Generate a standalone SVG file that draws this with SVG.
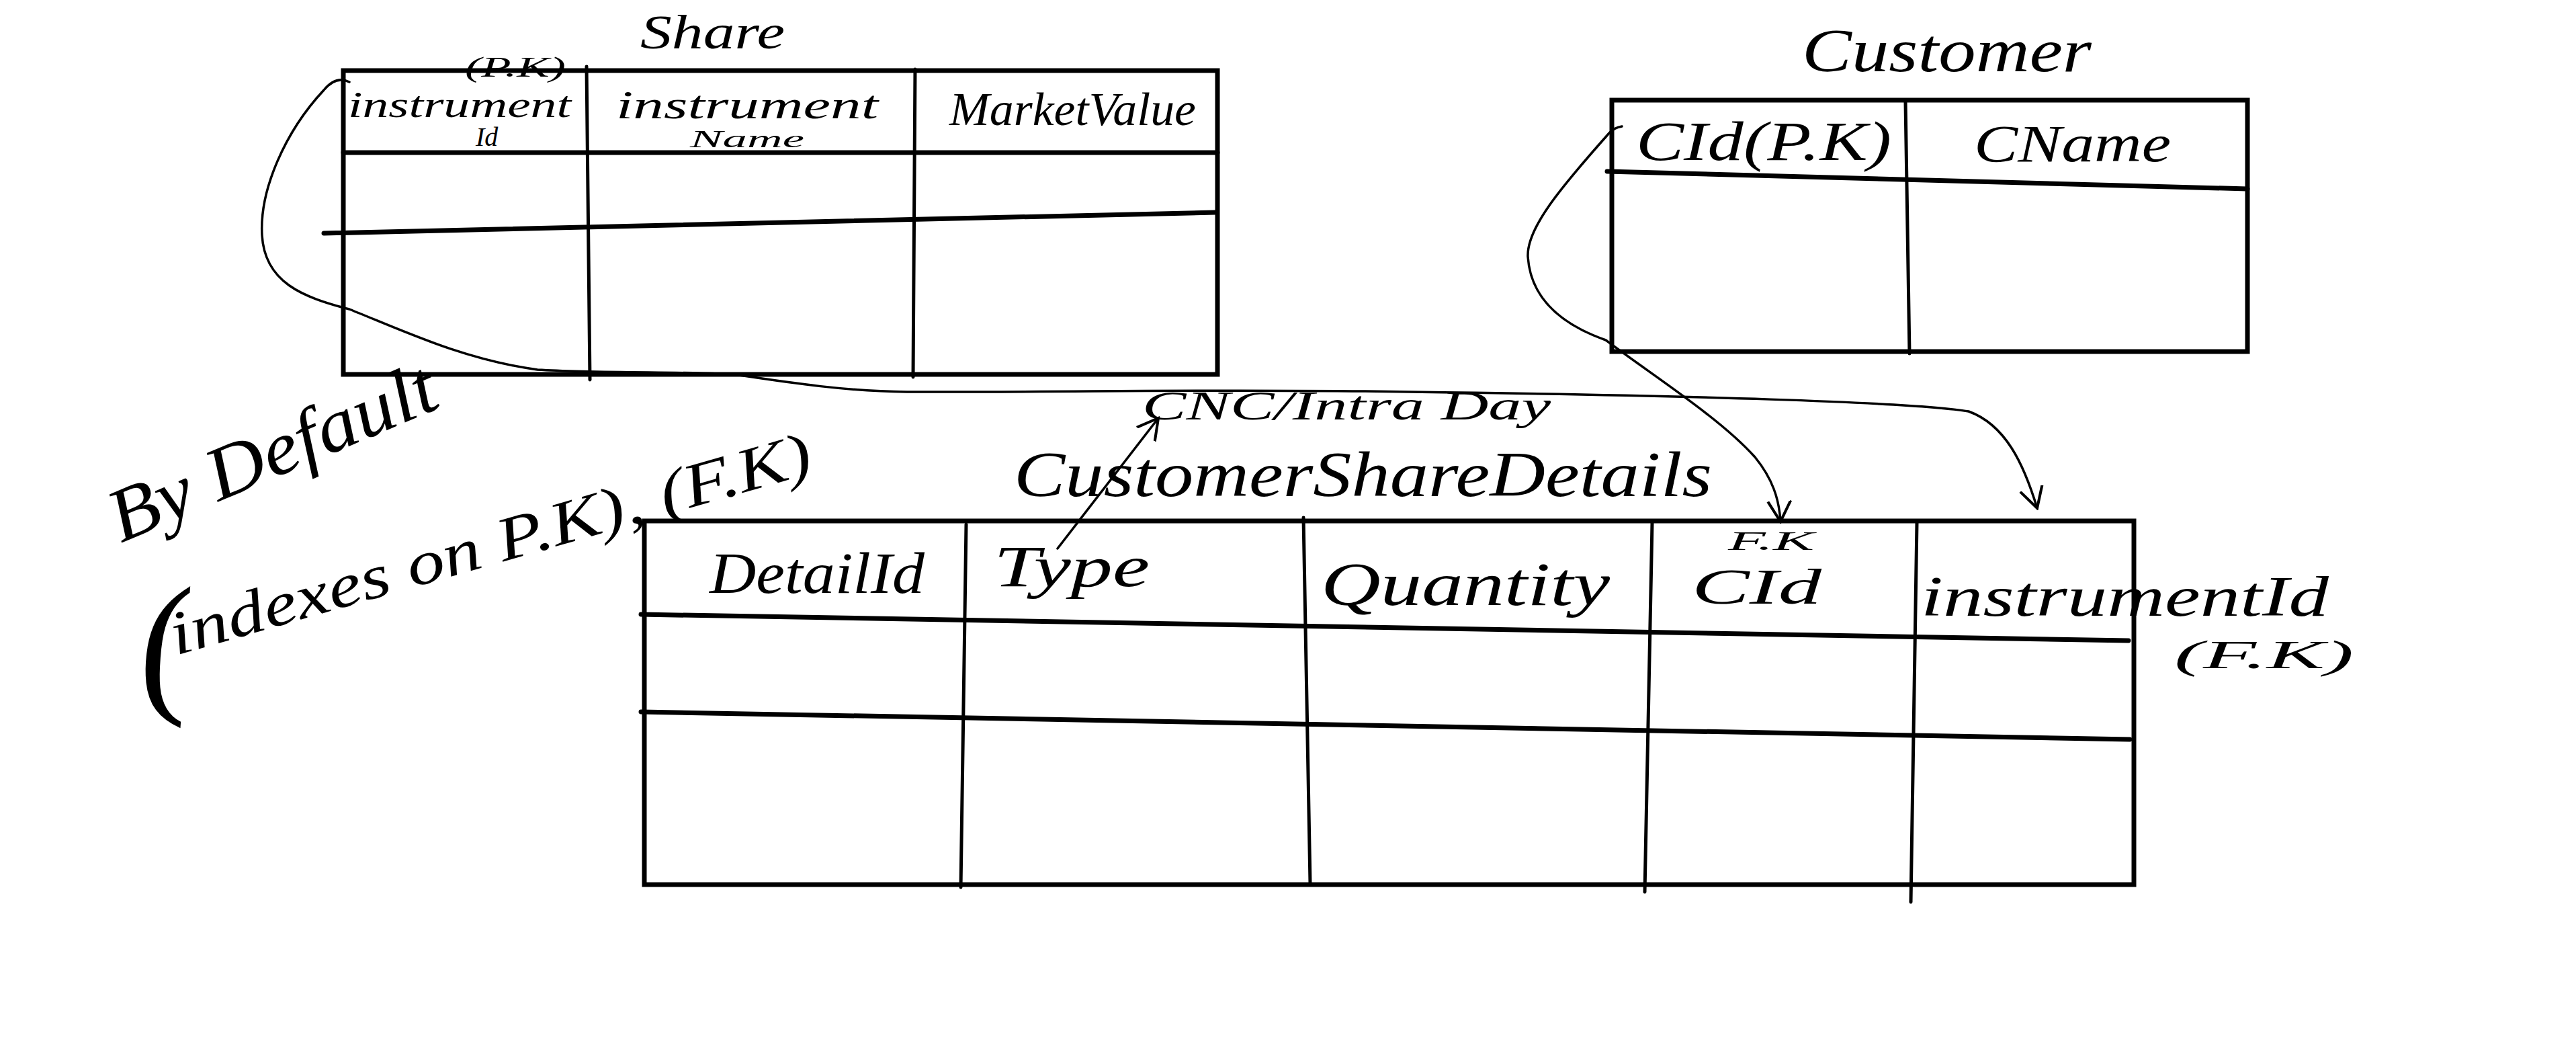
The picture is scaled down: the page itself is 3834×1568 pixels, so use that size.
<svg xmlns="http://www.w3.org/2000/svg" width="3834" height="1568" viewBox="0 0 3834 1568">
<style>
.bg{fill:#ffffff}
.frame{fill:none;stroke:#000;stroke-width:7;stroke-linejoin:miter}
.rule{fill:none;stroke:#000;stroke-width:7;stroke-linecap:round}
.div{fill:none;stroke:#000;stroke-width:5;stroke-linecap:round}
.conn{fill:none;stroke:#000;stroke-width:3.5;stroke-linecap:round;stroke-linejoin:round}
.hw{font-family:"Liberation Serif","DejaVu Serif",serif;font-style:italic;fill:#000}
</style>
<defs>
<marker id="head" viewBox="0 0 10 10" refX="9" refY="5" markerUnits="userSpaceOnUse" markerWidth="34" markerHeight="50" orient="auto">
<path d="M0,0 L9,5 L0,10" fill="none" stroke="#000" stroke-width="1.2"/>
</marker>
</defs>
<rect class="bg" x="0" y="0" width="3834" height="1568"/>

<g id="share">
<text class="hw" x="953" y="72" font-size="72" textLength="215" lengthAdjust="spacingAndGlyphs">Share</text>
<rect class="frame" x="511" y="105" width="1301" height="452"/>
<line class="rule" x1="511" y1="227" x2="1812" y2="227"/>
<line class="rule" x1="482" y1="347" x2="1809" y2="316"/>
<line class="div" x1="873" y1="99" x2="878" y2="565"/>
<line class="div" x1="1362" y1="103" x2="1359" y2="561"/>
<text class="hw" x="692" y="114" font-size="42" textLength="150" lengthAdjust="spacingAndGlyphs">(P.K)</text>
<text class="hw" x="518" y="174" font-size="54" textLength="332" lengthAdjust="spacingAndGlyphs">instrument</text>
<text class="hw" x="708" y="217" font-size="40">Id</text>
<text class="hw" x="917" y="176" font-size="60" textLength="390" lengthAdjust="spacingAndGlyphs">instrument</text>
<text class="hw" x="1027" y="219" font-size="36" textLength="170" lengthAdjust="spacingAndGlyphs">Name</text>
<text class="hw" x="1413" y="186" font-size="70" textLength="367" lengthAdjust="spacingAndGlyphs">MarketValue</text>
</g>

<g id="customer">
<text class="hw" x="2682" y="106" font-size="92" textLength="431" lengthAdjust="spacingAndGlyphs">Customer</text>
<rect class="frame" x="2399" y="149" width="946" height="374"/>
<line class="rule" x1="2392" y1="255" x2="3345" y2="281"/>
<line class="div" x1="2836" y1="151" x2="2842" y2="526"/>
<text class="hw" x="2435" y="238" font-size="82" textLength="380" lengthAdjust="spacingAndGlyphs">CId(P.K)</text>
<text class="hw" x="2938" y="240" font-size="78" textLength="293" lengthAdjust="spacingAndGlyphs">CName</text>
</g>

<g id="customer-share-details">
<text class="hw" x="1509" y="738" font-size="96" textLength="1039" lengthAdjust="spacingAndGlyphs">CustomerShareDetails</text>
<rect class="frame" x="959" y="775" width="2217" height="541"/>
<line class="rule" x1="954" y1="914" x2="3168" y2="953"/>
<line class="rule" x1="954" y1="1059" x2="3170" y2="1100"/>
<line class="div" x1="1438" y1="780" x2="1430" y2="1320"/>
<line class="div" x1="1940" y1="770" x2="1950" y2="1315"/>
<line class="div" x1="2459" y1="778" x2="2448" y2="1327"/>
<line class="div" x1="2853" y1="778" x2="2844" y2="1342"/>
<text class="hw" x="1056" y="882" font-size="86" textLength="320" lengthAdjust="spacingAndGlyphs">DetailId</text>
<text class="hw" x="1479" y="872" font-size="86" textLength="232" lengthAdjust="spacingAndGlyphs">Type</text>
<text class="hw" x="1966" y="900" font-size="92" textLength="430" lengthAdjust="spacingAndGlyphs">Quantity</text>
<text class="hw" x="2572" y="818" font-size="40" textLength="128" lengthAdjust="spacingAndGlyphs">F.K</text>
<text class="hw" x="2518" y="898" font-size="74" textLength="193" lengthAdjust="spacingAndGlyphs">CId</text>
<text class="hw" x="2859" y="916" font-size="84" textLength="607" lengthAdjust="spacingAndGlyphs">instrumentId</text>
<text class="hw" x="3236" y="994" font-size="60" textLength="267" lengthAdjust="spacingAndGlyphs">(F.K)</text>
</g>

<g id="notes">
<text class="hw" x="1700" y="624" font-size="62" textLength="608" lengthAdjust="spacingAndGlyphs">CNC/Intra Day</text>
<text class="hw" transform="translate(180,808) rotate(-23)" font-size="112" textLength="520" lengthAdjust="spacingAndGlyphs">By Default</text>
<text class="hw" transform="translate(212,1040) rotate(-6)" font-size="230">(</text>
<text class="hw" transform="translate(262,975) rotate(-16)" font-size="92" textLength="990" lengthAdjust="spacingAndGlyphs">indexes on P.K), (F.K)</text>
</g>

<g id="connectors">
<path class="conn" marker-end="url(#head)" d="M520,122 Q500,112 482,134 C425,195 386,282 390,350 C394,420 450,442 520,460 C600,492 690,535 800,550 C900,556 1050,552 1100,558 C1180,570 1260,582 1350,583 C1600,584 1800,578 2100,583 C2500,588 2850,598 2930,612 C2985,632 3012,690 3032,756"/>
<path class="conn" marker-end="url(#head)" d="M2414,188 Q2402,190 2395,198 C2322,280 2272,340 2274,382 C2278,442 2322,482 2390,506 C2462,560 2560,622 2612,680 C2638,712 2648,742 2650,776"/>
<path class="conn" marker-end="url(#head)" d="M1574,816 L1724,622"/>
</g>
</svg>
